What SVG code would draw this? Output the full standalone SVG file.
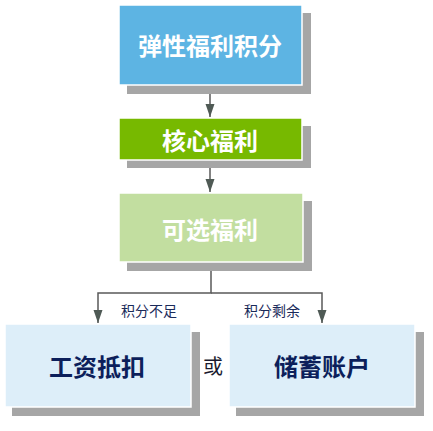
<svg xmlns="http://www.w3.org/2000/svg" width="433" height="431" viewBox="0 0 433 431">
<defs>
<style>
.sh{fill:#a6a6a6}
.bx{stroke:#ffffff;stroke-width:1.5}
.t{font-family:"Noto Sans CJK SC","Noto Sans",sans-serif;font-weight:700;font-size:24px;text-anchor:middle;dominant-baseline:central}
.w{fill:#ffffff}
.n{fill:#0c1f5b}
.lbl{font-family:"Noto Sans CJK SC","Noto Sans",sans-serif;font-size:14px;fill:#1a2a5a;text-anchor:middle;dominant-baseline:central}
.c{fill:none;stroke:#595959;stroke-width:1.5}
</style>
<marker id="ar" markerUnits="userSpaceOnUse" markerWidth="14" markerHeight="10" refX="13" refY="4.5" orient="auto" viewBox="0 0 14 9">
<path d="M0,0 L13,4.5 L0,9 Z" fill="#4f5a55"/>
</marker>
</defs>
<rect width="433" height="431" fill="#ffffff"/>
<g id="connectors">
<path class="c" d="M210,85 V117" marker-end="url(#ar)"/>
<path class="c" d="M210,160 V192" marker-end="url(#ar)"/>
<path class="c" d="M211,262 V293 H98 V323" marker-end="url(#ar)"/>
<path class="c" d="M211,293 H322 V323" marker-end="url(#ar)"/>
</g>
<g id="node-top">
<rect class="sh" x="127" y="13" width="184" height="81"/>
<rect class="bx" x="119" y="5" width="183" height="80" fill="#5db4e3"/>
<text class="t w" x="210" y="44">弹性福利积分</text>
</g>
<g id="node-core">
<rect class="sh" x="127" y="126" width="184" height="42"/>
<rect class="bx" x="119" y="118" width="183" height="42" fill="#77b900"/>
<text class="t w" x="210" y="139">核心福利</text>
</g>
<g id="node-optional">
<rect class="sh" x="127" y="201" width="185" height="70"/>
<rect class="bx" x="119" y="193" width="184" height="69" fill="#c2dea0"/>
<text class="t w" x="210" y="228">可选福利</text>
</g>
<g id="node-salary">
<rect class="sh" x="12" y="332" width="188" height="84"/>
<rect class="bx" x="5" y="324" width="186" height="83" fill="#ddeef9"/>
<text class="t n" x="97" y="365">工资抵扣</text>
</g>
<g id="node-savings">
<rect class="sh" x="236" y="332" width="188" height="84"/>
<rect class="bx" x="229" y="324" width="186" height="83" fill="#ddeef9"/>
<text class="t n" x="322" y="365">储蓄账户</text>
</g>
<g id="labels">
<text class="lbl" x="149" y="310">积分不足</text>
<text class="lbl" x="272" y="310">积分剩余</text>
<text x="213" y="365" font-family="'Noto Sans CJK SC','Noto Sans',sans-serif" font-size="20" fill="#1a1a2e" text-anchor="middle" dominant-baseline="central">或</text>
</g>
</svg>
